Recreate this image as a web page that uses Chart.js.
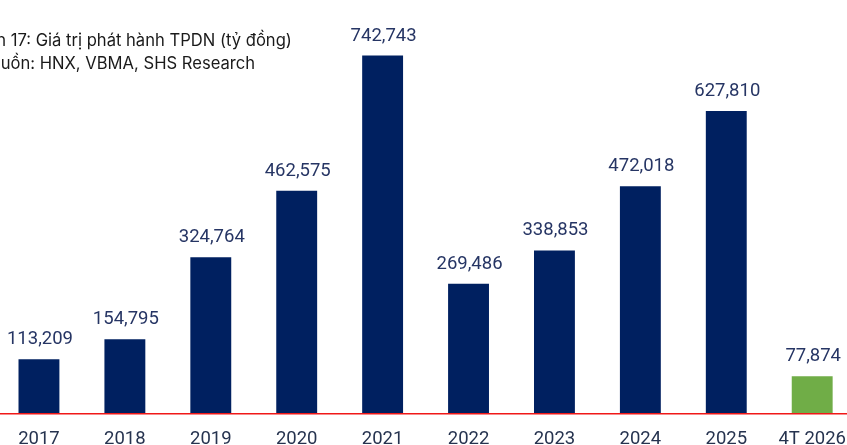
<!DOCTYPE html>
<html>
<head>
<meta charset="utf-8">
<script src="https://cdn.jsdelivr.net/npm/chart.js@4.4.1/dist/chart.umd.min.js"></script>
<style>
	html, body { margin: 0; padding: 0; background: #fff; overflow: hidden; width: 847px; height: 445px; }
	#wrap { position: absolute; left: -4px; top: 0; width: 864px; height: 464px; }
	.title { position: absolute; font-family: Inter, 'Liberation Sans', sans-serif; font-size: 16.6px; color: #1a1a1a; white-space: nowrap; }
</style>
</head>
<body>
<div id="wrap"><canvas id="myChart"></canvas></div>
<div class="title" id="t1"><span id="p1">Hình</span> 17: Giá trị phát hành TPDN (tỷ đồng)</div>
<div class="title" id="t2"><span id="p2">Ng</span>uồn: HNX, VBMA, SHS Research</div>
<script>
	const labels = ['2017', '2018', '2019', '2020', '2021', '2022', '2023', '2024', '2025', '4T 2026'];
	const values = [113209, 154795, 324764, 462575, 742743, 269486, 338853, 472018, 627810, 77874];
	const barColors = ['#002060', '#002060', '#002060', '#002060', '#002060', '#002060', '#002060', '#002060', '#002060', '#70AD47'];

	// title lines are cut at the left edge in the original
	const p1 = document.getElementById('p1').offsetWidth;
	const p2 = document.getElementById('p2').offsetWidth;
	document.getElementById('t1').style.left = (6 - p1) + 'px';
	document.getElementById('t1').style.top = '30px';
	document.getElementById('t2').style.left = (1 - p2) + 'px';
	document.getElementById('t2').style.top = '53px';

	const valueLabels = {
		id: 'valueLabels',
		afterDatasetsDraw: (chart) => {
			const {ctx} = chart;
			const meta = chart.getDatasetMeta(0);
			ctx.save();
			ctx.font = '18.5px Roboto';
			ctx.fillStyle = '#263564';
			ctx.textAlign = 'center';
			ctx.textBaseline = 'alphabetic';
			meta.data.forEach((bar, i) => {
				ctx.fillText(values[i].toLocaleString('en-US'), bar.x + 1, bar.y - 15);
			});
			ctx.restore();
		}
	};

	const redLine = {
		id: 'redLine',
		afterDatasetsDraw: (chart) => {
			const {ctx, chartArea, width} = chart;
			ctx.save();
			ctx.strokeStyle = '#f01818';
			ctx.lineWidth = 1.5;
			ctx.beginPath();
			ctx.moveTo(0, chartArea.bottom);
			ctx.lineTo(width, chartArea.bottom);
			ctx.stroke();
			ctx.restore();
		}
	};

	const config = {
		type: 'bar',
		data: {
			labels: labels,
			datasets: [{
				data: values,
				backgroundColor: barColors,
				barPercentage: 0.476,
				categoryPercentage: 1
			}]
		},
		options: {
			responsive: true,
			maintainAspectRatio: false,
			animation: false,
			layout: { padding: 0 },
			plugins: {
				legend: { display: false },
				tooltip: { enabled: false }
			},
			scales: {
				x: {
					grid: { display: false, drawTicks: false },
					border: { display: false },
					ticks: {
						padding: 14,
						color: '#26334f',
						font: { family: 'Roboto', size: 18.5 }
					}
				},
				y: {
					display: false,
					min: 0,
					max: 858000
				}
			}
		},
		plugins: [valueLabels, redLine]
	};

	const myChart = new Chart(document.getElementById('myChart'), config);
</script>
</body>
</html>
